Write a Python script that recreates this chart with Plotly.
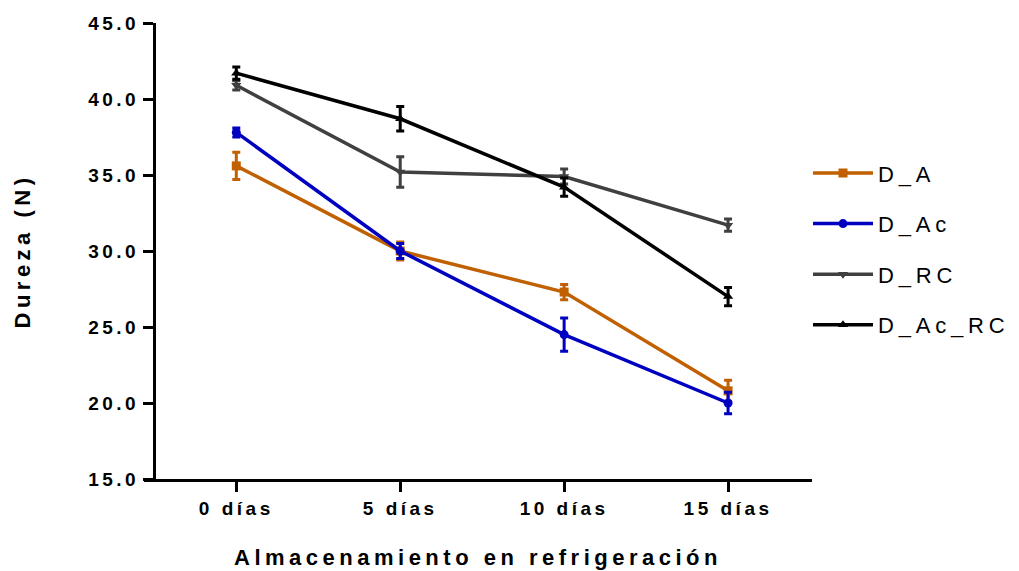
import plotly.graph_objects as go

categories = ["0 días", "5 días", "10 días", "15 días"]
series_names = ["D_A", "D_Ac", "D_RC", "D_Ac_RC"]
d_a = [35.6, 30.0, 27.3, 20.8]
d_a_err = [0.9, 0.6, 0.5, 0.7]
d_ac = [37.8, 30.0, 24.5, 20.0]
d_ac_err = [0.3, 0.5, 1.1, 0.7]
d_rc = [40.9, 35.2, 34.9, 31.7]
d_rc_err = [0.3, 1.0, 0.5, 0.4]
d_ac_rc = [41.7, 38.7, 34.2, 27.0]
d_ac_rc_err = [0.4, 0.8, 0.6, 0.6]
y_ticks = [15, 20, 25, 30, 35, 40, 45]

values = [d_a, d_ac, d_rc, d_ac_rc]
errors = [d_a_err, d_ac_err, d_rc_err, d_ac_rc_err]
colors = ["#C06000", "#0000C0", "#404040", "#000000"]
symbols = ["square", "circle", "triangle-down", "triangle-up"]


def spaced(t, px):
    return f'<span style="letter-spacing:{px}px">{t}</span>'


fig = go.Figure()
for i, (name, v, e) in enumerate(zip(series_names, values, errors)):
    fig.add_trace(go.Scatter(
        x=list(range(len(categories))), y=v, name=spaced(name, 4.8),
        mode="lines+markers",
        line=dict(color=colors[i], width=3.5),
        marker=dict(symbol=symbols[i], size=9, color=colors[i]),
        error_y=dict(type="data", array=e, visible=True, color=colors[i],
                     thickness=3, width=4),
        legendgroup=name,
    ))

font_family = "Liberation Sans, Arial, sans-serif"
fig.update_layout(
    width=1019, height=571,
    paper_bgcolor="white", plot_bgcolor="white",
    margin=dict(l=136, r=203, t=15, b=100),
    font=dict(family=font_family, color="black"),
    showlegend=True,
    legend=dict(x=0.994, y=0.504, yanchor="middle", xanchor="left",
                font=dict(size=22, family=font_family, color="black"),
                tracegroupgap=19, itemwidth=60, bgcolor="rgba(0,0,0,0)"),
    xaxis=dict(
        range=[-0.563, 3.512], tickmode="array", automargin=False,
        tickvals=list(range(len(categories))),
        ticktext=[spaced(c, 3.5) for c in categories],
        showline=True, linecolor="black", linewidth=3,
        ticks="outside", ticklen=10, tickwidth=3, tickcolor="black",
        showgrid=False, zeroline=False,
        tickfont=dict(size=19, family=font_family, weight="bold"),
        title=dict(text=spaced("Almacenamiento en refrigeración", 4.5),
                   font=dict(size=22, family=font_family, weight="bold"),
                   standoff=32),
    ),
    yaxis=dict(
        range=[15, 45], tickmode="array", tickvals=y_ticks, automargin=False,
        anchor="free", position=0.0149,
        ticktext=[spaced(f"{t:.1f}", 3.5) for t in y_ticks],
        showline=True, linecolor="black", linewidth=3,
        ticks="outside", ticklen=10, tickwidth=3, tickcolor="black",
        showgrid=False, zeroline=False,
        tickfont=dict(size=19, family=font_family, weight="bold"),
        title=dict(text=spaced("Dureza (N)", 4.5),
                   font=dict(size=22, family=font_family, weight="bold"),
                   standoff=50),
    ),
)

fig.write_html("out.html")
